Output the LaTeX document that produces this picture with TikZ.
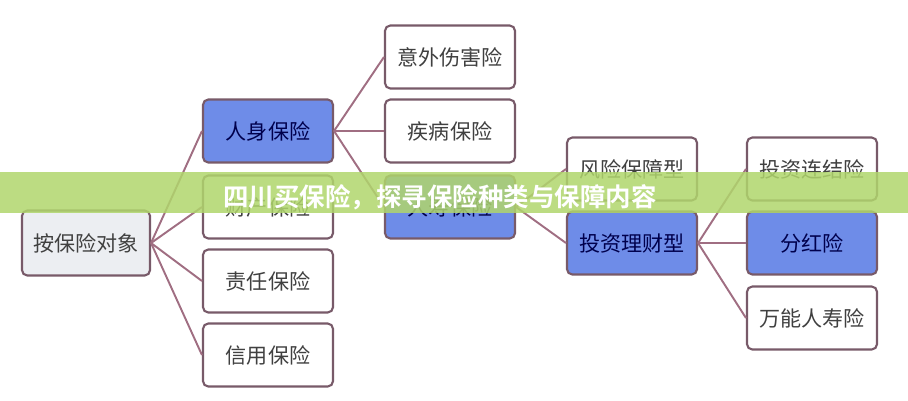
\documentclass[tikz,border=0pt]{standalone}
\usepackage{fontspec}
\newfontfamily\cjk{Noto Sans CJK SC}
\newfontfamily\cjkb{Noto Sans CJK SC Bold}
\definecolor{edge}{RGB}{160,110,130}
\definecolor{rim}{RGB}{120,90,105}
\definecolor{bluebox}{RGB}{110,140,232}
\definecolor{rootbox}{RGB}{236,238,242}
\definecolor{banner}{RGB}{176,214,108}
\begin{document}
\begin{tikzpicture}[x=0.02cm,y=-0.02cm]
	\tikzstyle{item}=[draw=rim,line width=1.2pt,rounded corners=3pt,fill=white,minimum width=2.6cm,minimum height=1.26cm,font=\cjk\fontsize{12}{14}\selectfont,text=black!75,inner sep=0pt]
	\tikzstyle{hot}=[item,fill=bluebox,text=blue!30!black]
	\tikzstyle{link}=[draw=edge,line width=1.1pt]

	\useasboundingbox (0,0) rectangle (908,400);

	\node [item,fill=rootbox,minimum width=2.56cm,minimum height=1.3cm] (root) at (86,243) {按保险对象};

	\node [hot] (person) at (268,131) {人身保险};
	\node [item] (property) at (268,207) {财产保险};
	\node [item] (liability) at (268,281) {责任保险};
	\node [item] (credit) at (268,355) {信用保险};

	\node [item] (accident) at (450,57) {意外伤害险};
	\node [item] (illness) at (450,131) {疾病保险};
	\node [hot] (life) at (450,207) {人寿保险};

	\node [item] (risk) at (632,169) {风险保障型};
	\node [hot] (invest) at (632,243) {投资理财型};

	\node [item] (linked) at (812,169) {投资连结险};
	\node [hot] (bonus) at (812,243) {分红险};
	\node [item] (universal) at (812,318) {万能人寿险};

	\foreach \source/\dest in
	{root/person,root/property,root/liability,root/credit,person/accident,person/illness,person/life,life/risk,life/invest,invest/linked,invest/bonus,invest/universal}
	  \draw [link] (\source.east) -- (\dest.west);

	\fill [banner,opacity=0.85] (0,172) rectangle (908,213);
	\node [font=\cjkb\fontsize{14.5}{16}\selectfont,text=white] (title) at (440,197) {四川买保险，探寻保险种类与保障内容};
\end{tikzpicture}
\end{document}
